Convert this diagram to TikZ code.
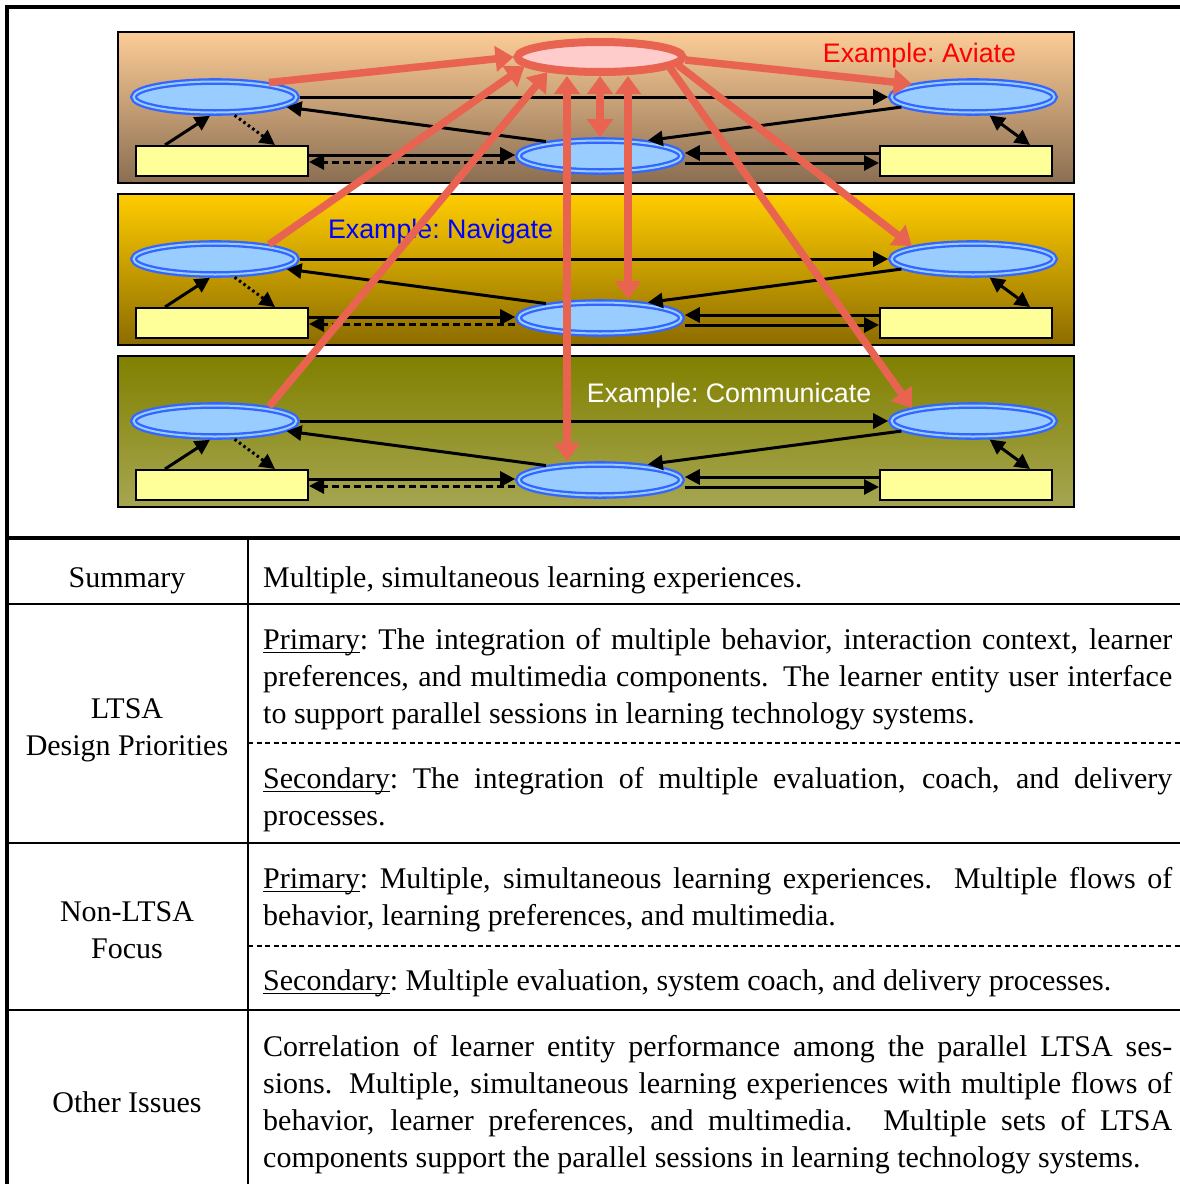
\documentclass[tikz,border=0pt]{standalone}
\usepackage{fontspec}
\setmainfont{Liberation Serif}
\newfontfamily\labelfont{Liberation Sans}
\usepackage{tikz}
\usetikzlibrary{shapes.geometric,arrows.meta,positioning,calc}
\definecolor{PeachTop}{RGB}{252,204,150}
\definecolor{PeachBot}{RGB}{138,110,82}
\definecolor{GoldTop}{RGB}{255,204,0}
\definecolor{GoldBot}{RGB}{140,108,0}
\definecolor{OliveTop}{RGB}{128,128,0}
\definecolor{OliveBot}{RGB}{166,166,82}
\definecolor{StateBlue}{RGB}{51,102,255}
\definecolor{StateFill}{RGB}{153,204,255}
\definecolor{StoreYellow}{RGB}{255,255,153}
\definecolor{DriveRed}{RGB}{232,100,80}
\definecolor{GoalPink}{RGB}{255,204,204}
\newcommand{\ulword}[1]{\leavevmode\setbox0\hbox{#1}\rlap{\rule[-4pt]{\wd0}{1.6pt}}\box0}

\begin{document}
\sfcode`\:=1000
\begin{tikzpicture}[x=1pt, y=-1pt]
  \tikzstyle{band} = [rectangle, draw=black, line width=2pt, minimum width=956pt, minimum height=151pt, inner sep=0pt]
  \tikzstyle{state} = [ellipse, draw=StateBlue, line width=2.3pt, double=StateFill, double distance=2pt, fill=StateFill, minimum width=163pt, minimum height=31pt, inner sep=0pt, outer sep=3.3pt]
  \tikzstyle{store} = [rectangle, draw=black, line width=2pt, fill=StoreYellow, minimum width=172pt, minimum height=30pt, inner sep=0pt]
  \tikzstyle{goalnode} = [ellipse, draw=DriveRed, line width=8pt, fill=GoalPink, minimum width=165pt, minimum height=30pt, inner sep=0pt]
  \tikzstyle{flow} = [-{Triangle[length=15pt,width=15pt]}, line width=3pt]
  \tikzstyle{flowboth} = [{Triangle[length=15pt,width=15pt]}-{Triangle[length=15pt,width=15pt]}, line width=3pt]
  \tikzstyle{drive} = [-{Triangle[length=18pt,width=25pt]}, draw=DriveRed, line width=7.5pt]
  \tikzstyle{driveboth} = [{Triangle[length=18pt,width=25pt]}-{Triangle[length=18pt,width=25pt]}, draw=DriveRed, line width=7.5pt]
  \tikzstyle{example} = [anchor=base, inner sep=0pt, font=\labelfont\fontsize{26.8}{32}\selectfont]
  \tikzstyle{cell} = [anchor=north west, inner sep=0pt, text width=909pt, align=justify, font=\fontsize{30}{37}\selectfont]
  \tikzstyle{head} = [anchor=north, inner sep=0pt, align=center, font=\fontsize{30}{37}\selectfont]

  \useasboundingbox (0,0) rectangle (1180,1184);

  % three session bands
  \foreach \i/\off/\tc/\bc in {1/0/PeachTop/PeachBot, 2/162/GoldTop/GoldBot, 3/324/OliveTop/OliveBot} {
    \node [band, top color=\tc, bottom color=\bc] (band\i) at (596,{107.5+\off}) {};
    \node [state] (L\i) at (215,{97+\off}) {};
    \node [state] (M\i) at (600,{156+\off}) {};
    \node [state] (R\i) at (973,{97+\off}) {};
    \node [store] (lr\i) at (222,{161+\off}) {};
    \node [store] (rr\i) at (966,{161+\off}) {};

    \draw [flow] (L\i.east) -- (R\i.west);
    \draw [flow] (R\i.188) -- (M\i.18);
    \draw [flow] (M\i.165) -- (L\i.-8);
    \draw [flow] ([xshift=30pt]lr\i.north west) -- (L\i.255);
    \draw [flow, dash pattern=on 2.5pt off 3pt] (L\i.317) -- ([xshift=-34pt]lr\i.north east);
    \draw [flow] ([yshift=6pt]lr\i.east) -- ([yshift=6pt]lr\i.east -| M\i.west);
    \draw [flow, dash pattern=on 7pt off 4pt] ([yshift=-6pt]M\i.west) -- ([yshift=-6pt]M\i.west -| lr\i.east);
    \draw [flow] ([yshift=8pt]rr\i.west) -- ([yshift=8pt]rr\i.west -| M\i.east);
    \draw [flow] ([yshift=-7pt]M\i.east) -- ([yshift=-7pt]M\i.east -| rr\i.west);
    \draw [flowboth] (R\i.312) -- ([xshift=64pt]rr\i.north);
  }

  \node [goalnode] (goal) at (600,57) {};

  \node [example, text=red] (aviate) at (919.5,62) {Example: Aviate};
  \node [example, text=blue] (navigate) at (440.5,238) {Example: Navigate};
  \node [example, text=white] (communicate) at (729,402) {Example: Communicate};

  % goal links
  \draw [drive] (L1.15) -- (goal.west);
  \draw [drive] (goal.-2) -- (R1.168);
  \draw [driveboth] (goal.south) -- (M1.north);
  \draw [drive] (L2.15) -- (goal.187);
  \draw [drive] (L3.15) -- (goal.196);
  \draw [driveboth] ([xshift=-33pt]goal.south) -- ([xshift=-33pt]M3.north);
  \draw [driveboth] ([xshift=28pt]goal.south) -- ([xshift=28pt]M2.north);
  \draw [drive] (goal.-6) -- (R2.168);
  \draw [drive] (goal.-9) -- (R3.168);

  % table rules
  \draw [line width=4pt, line join=miter] (1180,7) -- (7,7) -- (7,1184);
  \draw [line width=4pt] (7,538) -- (1180,538);
  \draw [line width=2.7pt] (7,604) -- (1180,604);
  \draw [line width=2.7pt] (7,843) -- (1180,843);
  \draw [line width=2.7pt] (7,1010) -- (1180,1010);
  \draw [line width=2.7pt] (248,538) -- (248,1184);
  \draw [line width=1.6pt, dash pattern=on 5pt off 3.5pt] (248,743) -- (1180,743);
  \draw [line width=1.6pt, dash pattern=on 5pt off 3.5pt] (248,946) -- (1180,946);

  % table text
  \node [head] (sumhead) at (127,561) {\strut Summary};
  \node [head] (ltsahead) at (127,692) {\strut LTSA\\Design Priorities};
  \node [head] (nonhead) at (127,895) {\strut Non-LTSA\\Focus};
  \node [head] (otherhead) at (127,1086) {\strut Other Issues};

  \node [cell] (sumtext) at (263,561) {\strut Multiple, simultaneous learning experiences.};
  \node [cell] (ltsaprim) at (263,623) {\strut\ulword{Primary}: The integration of multiple behavior, interaction context, learner\linebreak preferences, and multimedia components.  The learner entity user interface\linebreak to support parallel sessions in learning technology systems.};
  \node [cell] (ltsasec) at (263,762) {\strut\ulword{Secondary}: The integration of multiple evaluation, coach, and delivery\linebreak processes.};
  \node [cell] (nonprim) at (263,862) {\strut\ulword{Primary}: Multiple, simultaneous learning experiences.  Multiple flows of\linebreak behavior, learning preferences, and multimedia.};
  \node [cell] (nonsec) at (263,964) {\strut\ulword{Secondary}: Multiple evaluation, system coach, and delivery processes.};
  \node [cell] (othertext) at (263,1030) {\strut Correlation of learner entity performance among the parallel LTSA ses-\linebreak sions.  Multiple, simultaneous learning experiences with multiple flows of\linebreak behavior, learner preferences, and multimedia.  Multiple sets of LTSA\linebreak components support the parallel sessions in learning technology systems.};
\end{tikzpicture}
\end{document}
